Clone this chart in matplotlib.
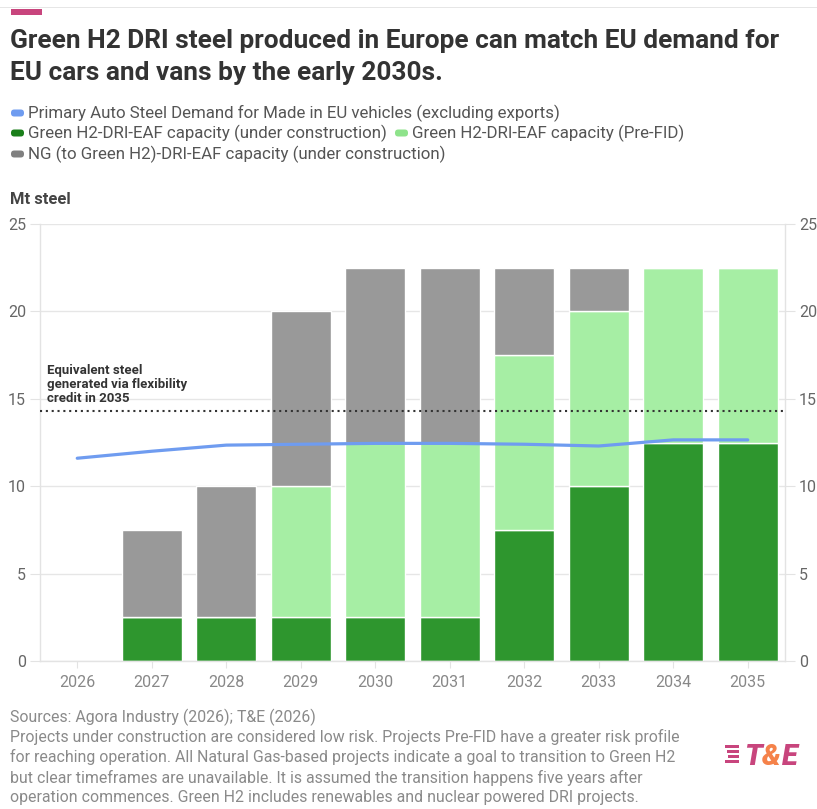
import matplotlib.pyplot as plt
from matplotlib.patches import FancyBboxPatch, Rectangle
import numpy as np

plt.rcParams["font.family"] = ["Roboto", "DejaVu Sans"]

years = ["2026", "2027", "2028", "2029", "2030", "2031", "2032", "2033", "2034", "2035"]
green_uc = [0, 2.5, 2.5, 2.5, 2.5, 2.5, 7.5, 10, 12.5, 12.5]
green_prefid = [0, 0, 0, 7.5, 10, 10, 10, 10, 10, 10]
ng_uc = [0, 5, 7.5, 10, 10, 10, 5, 2.5, 0, 0]
demand = [11.6, 12.0, 12.35, 12.4, 12.45, 12.45, 12.4, 12.3, 12.65, 12.65]
flex_credit = 14.3

C_DARK = "#2e962e"
C_LIGHT = "#a6eea4"
C_GREY = "#999999"
C_BLUE = "#6f9cf0"
C_PINK = "#c8457d"

W, H = 817, 809
fig = plt.figure(figsize=(W / 100, H / 100), dpi=100)


def fx(px):
    return px / W


def fy(py):
    return 1 - py / H


ax = fig.add_axes([fx(40), fy(661), fx(785) - fx(40), (661 - 224) / H])

x = np.arange(len(years))
width = 0.805
green_uc = np.array(green_uc)
green_prefid = np.array(green_prefid)
ng_uc = np.array(ng_uc)

ax.bar(x, green_uc, width, color=C_DARK, edgecolor="white", linewidth=1, zorder=2)
ax.bar(x, green_prefid, width, bottom=green_uc, color=C_LIGHT,
       edgecolor="white", linewidth=1, zorder=2)
ax.bar(x, ng_uc, width, bottom=green_uc + green_prefid, color=C_GREY,
       edgecolor="white", linewidth=1, zorder=2)

ax.plot(x, demand, color=C_BLUE, linewidth=2.3, zorder=3,
        solid_capstyle="round")
ax.axhline(flex_credit, color="#333333", linewidth=1.5,
           linestyle=(0, (1, 1.8)), zorder=4)
ax.text(-0.41, flex_credit + 0.35,
        "Equivalent steel\ngenerated via flexibility\ncredit in 2035",
        fontsize=9.5, fontweight="bold", color="#333333",
        va="bottom", ha="left", linespacing=1.1, zorder=5)

ax.set_xlim(-0.5, 9.5)
ax.set_ylim(0, 25)
ax.set_xticks(x)
ax.set_xticklabels(years)
ax.set_yticks([0, 5, 10, 15, 20, 25])
ax.grid(axis="y", color="#e6e6e6", linewidth=1, zorder=0)
ax.set_axisbelow(True)
ax.spines["top"].set_visible(False)
for side in ["left", "right", "bottom"]:
    ax.spines[side].set_color("#e3e3e3")
    ax.spines[side].set_linewidth(1)
ax.tick_params(axis="y", which="both", left=True, right=True,
               labelleft=True, labelright=True, length=7,
               color="#e3e3e3", labelsize=11.5, labelcolor="#666666", pad=3)
ax.tick_params(axis="x", length=5, color="#e3e3e3", labelsize=11.5,
               labelcolor="#888888", pad=5)

# header
fig.add_artist(Rectangle((0, fy(8)), 1, 0.0012, transform=fig.transFigure,
                         color="#e6e6e6", lw=0))
fig.add_artist(Rectangle((fx(11), fy(15)), fx(31), 6 / H,
                         transform=fig.transFigure, color=C_PINK, lw=0))
title_lines = [
    (48, "Green H2 DRI steel produced in Europe can match EU demand for"),
    (80, "EU cars and vans by the early 2030s."),
]
for py, line in title_lines:
    fig.text(fx(10), fy(py), line, fontsize=18.9, fontweight="bold",
             color="#333333", va="baseline", ha="left")

legend_items = [
    (11, 113, C_BLUE, "Primary Auto Steel Demand for Made in EU vehicles (excluding exports)"),
    (11, 133, "#1a7f1a", "Green H2-DRI-EAF capacity (under construction)"),
    (395, 133, "#8ee38b", "Green H2-DRI-EAF capacity (Pre-FID)"),
    (11, 154, "#808080", "NG (to Green H2)-DRI-EAF capacity (under construction)"),
]
for px, py, col, label in legend_items:
    fig.add_artist(FancyBboxPatch((fx(px), fy(py + 3.5)), fx(13), 7 / H,
                                  boxstyle="round,pad=0,rounding_size=0.004",
                                  transform=fig.transFigure, color=col, lw=0))
    fig.text(fx(px + 17), fy(py), label, fontsize=12.2, color="#555555",
             va="center", ha="left")

fig.text(fx(10), fy(199), "Mt steel", fontsize=11.9, fontweight="bold",
         color="#444444", va="center", ha="left")

footer_lines = [
    "Sources: Agora Industry (2026); T&E (2026)",
    "Projects under construction are considered low risk. Projects Pre-FID have a greater risk profile",
    "for reaching operation. All Natural Gas-based projects indicate a goal to transition to Green H2",
    "but clear timeframes are unavailable. It is assumed the transition happens five years after",
    "operation commences. Green H2 includes renewables and nuclear powered DRI projects.",
]
for i, line in enumerate(footer_lines):
    fig.text(fx(10), fy(717 + 20.2 * i), line, fontsize=11.4, color="#8a8a8a",
             va="center", ha="left")

# logo
for i, (y0, x0) in enumerate([(746, 725), (751, 727), (756, 728), (761, 725)]):
    fig.add_artist(Rectangle((fx(x0), fy(y0 + 1.5)), fx(739 - x0), 3 / H,
                             transform=fig.transFigure, color=C_PINK, lw=0))
fig.canvas.draw()
renderer = fig.canvas.get_renderer()
cursor = 744
for ch, col in [("T", C_PINK), ("&", "#f5824a"), ("E", C_PINK)]:
    t = fig.text(fx(cursor), fy(765), ch, fontsize=21, fontweight="black",
                 style="italic", color=col, va="baseline", ha="left")
    bb = t.get_window_extent(renderer)
    cursor += bb.width + 0.5

fig.savefig("out.png", dpi=100)
